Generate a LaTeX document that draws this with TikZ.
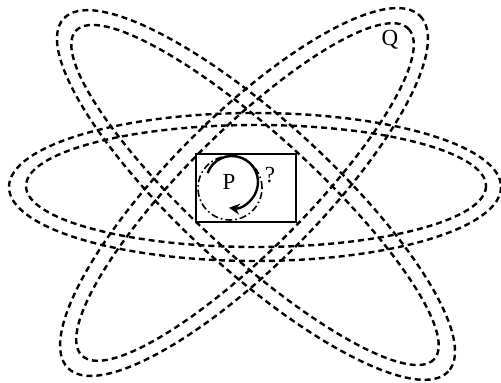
\documentclass[tikz,border=0pt]{standalone}
\usepackage{fontspec}
\setmainfont{Liberation Serif}
\usetikzlibrary{arrows.meta}

\begin{document}
\begin{tikzpicture}[
    x=0.5pt, y=-0.5pt,
    orbit/.style={line width=1.2pt, dash pattern=on 3pt off 2pt},
    tag/.style={inner sep=0pt, font=\fontsize{11.5}{13}\selectfont},
    turn/.style={-{Stealth[length=5.5pt, width=5.5pt]}, line width=1.2pt}
]
\useasboundingbox (0,0) rectangle (501,383);
% horizontal ring
\draw[orbit] (255,187) ellipse [x radius=246, y radius=74];
\draw[orbit] (256,186) ellipse [x radius=230, y radius=61];
% ring from upper left to lower right
\draw[orbit, rotate around={-42.5:(256,195)}] (256,195) ellipse [x radius=261, y radius=75];
\draw[orbit, rotate around={-42.5:(255,195)}] (255,195) ellipse [x radius=243, y radius=60];
% ring from lower left to upper right
\draw[orbit, rotate around={45:(244,192)}] (244,192) ellipse [x radius=249, y radius=75];
\draw[orbit, rotate around={45:(245,192)}] (245,192) ellipse [x radius=231, y radius=60];
% centre
\node[draw, line width=0.7pt, minimum width=50pt, minimum height=34pt] (frame) at (246,188) {};
\node[draw, circle, line width=0.8pt, dash pattern=on 3.5pt off 1.5pt on 0.8pt off 1.5pt, minimum size=32pt, inner sep=0pt] (core) at (230,188) {};
\node[tag] (p) at (229,182) {P};
\coordinate (spin) at (232,182);
\draw[turn] (spin) ++(-160:26) arc[start angle=-160, end angle=97, radius=26];
\node[tag] (ask) at (270,175) {?};
\node[tag] (q) at (390,40) {Q};
\end{tikzpicture}
\end{document}
